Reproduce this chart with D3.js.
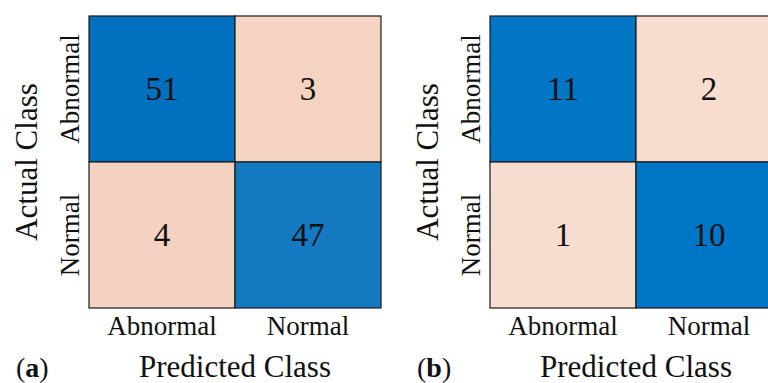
<!DOCTYPE html>
<html>
<head>
<meta charset="utf-8">
<script src="https://cdn.jsdelivr.net/npm/d3@7"></script>
<style>
  html, body { margin: 0; padding: 0; background: #fff; overflow: hidden; }
  svg { display: block; font-family: "Liberation Serif", "DejaVu Serif", serif; }
</style>
</head>
<body>
<svg id="chart" width="768" height="383"></svg>
<script>
// Class labels shared by both confusion matrices
const classes = ["Abnormal", "Normal"];

// Confusion matrix counts, rows = actual class, columns = predicted class
const matrixA = [[51, 3], [4, 47]];
const matrixB = [[11, 2], [1, 10]];

const panelLabels = ["a", "b"];
const xTitle = "Predicted Class";
const yTitle = "Actual Class";

const svg = d3.select("#chart");

const panels = [
  { data: matrixA, label: panelLabels[0], left: 89, top: 16, cell: 146,
    colors: ["#f5d3c3", "#f4d1c0", "#1479c1", "#0070bf"] },
  { data: matrixB, label: panelLabels[1], left: 490, top: 16, cell: 146,
    colors: ["#f7ddd0", "#f8dccf", "#0077c6", "#0076c5"] }
];

panels.forEach(p => {
  const g = svg.append("g");
  const size = p.cell * classes.length;

  const x = d3.scaleBand().domain(classes).range([p.left, p.left + size]);
  const y = d3.scaleBand().domain(classes).range([p.top, p.top + size]);

  const flat = [];
  p.data.forEach((row, i) => row.forEach((v, j) => flat.push({ actual: classes[i], predicted: classes[j], value: v })));

  const sorted = flat.map(d => d.value).sort((a, b) => a - b);
  const color = d3.scaleLinear().domain(sorted).range(p.colors);

  g.selectAll("rect.cell").data(flat).join("rect")
    .attr("class", "cell")
    .attr("x", d => x(d.predicted))
    .attr("y", d => y(d.actual))
    .attr("width", x.bandwidth())
    .attr("height", y.bandwidth())
    .attr("fill", d => color(d.value))
    .attr("stroke", "#1a1a1a")
    .attr("stroke-width", 1.2);

  g.selectAll("text.val").data(flat).join("text")
    .attr("class", "val")
    .attr("x", d => x(d.predicted) + x.bandwidth() / 2)
    .attr("y", d => y(d.actual) + y.bandwidth() / 2 + 11)
    .attr("text-anchor", "middle")
    .attr("font-size", 33)
    .attr("fill", "#111")
    .text(d => d.value);

  // Predicted class tick labels
  const xAxis = g.append("g").attr("transform", `translate(0,${p.top + size})`)
    .call(d3.axisBottom(x).tickSize(0).tickPadding(8));
  xAxis.select(".domain").remove();
  xAxis.selectAll("text").attr("font-size", 27).attr("fill", "#111")
    .attr("font-family", "Liberation Serif, serif");

  // Actual class tick labels, rotated
  const yAxis = g.append("g").attr("transform", `translate(${p.left},0)`)
    .call(d3.axisLeft(y).tickSize(0).tickPadding(0));
  yAxis.select(".domain").remove();
  yAxis.selectAll("text")
    .attr("font-size", 27).attr("fill", "#111")
    .attr("font-family", "Liberation Serif, serif")
    .attr("text-anchor", "middle")
    .attr("x", 0).attr("dy", 0)
    .attr("transform", "translate(-10,0) rotate(-90)");

  // Axis titles
  g.append("text")
    .attr("x", p.left + size / 2)
    .attr("y", 377)
    .attr("text-anchor", "middle")
    .attr("font-size", 31)
    .attr("fill", "#111")
    .text(xTitle);

  g.append("text")
    .attr("transform", `translate(${p.left - 52},${p.top + size / 2}) rotate(-90)`)
    .attr("text-anchor", "middle")
    .attr("font-size", 31)
    .attr("fill", "#111")
    .text(yTitle);

  // Panel tag
  const tag = g.append("text")
    .attr("x", p.left - 73)
    .attr("y", 377)
    .attr("font-size", 28)
    .attr("fill", "#111");
  tag.append("tspan").text("(");
  tag.append("tspan").attr("font-weight", "bold").text(p.label);
  tag.append("tspan").text(")");
});
</script>
</body>
</html>
